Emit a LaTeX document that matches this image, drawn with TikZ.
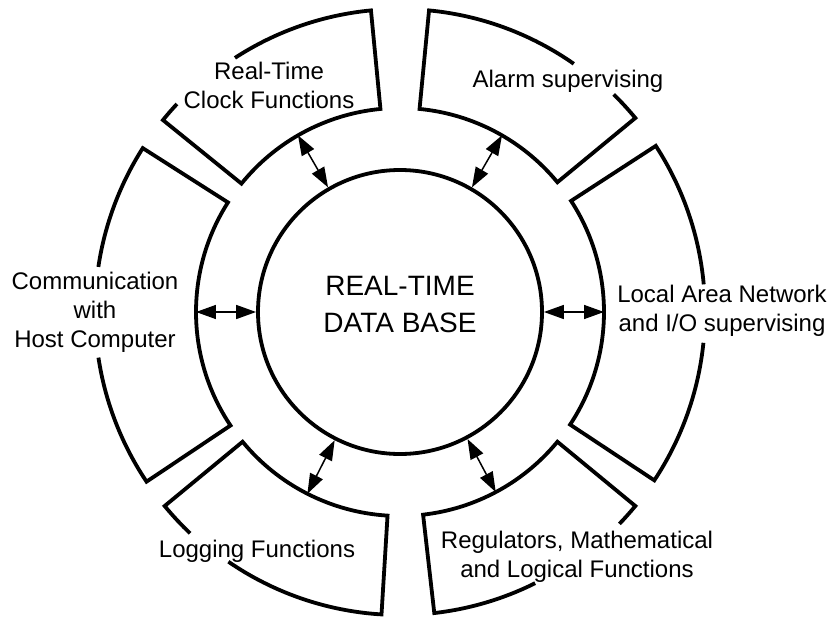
\documentclass[tikz,border=0pt]{standalone}
\usepackage{fontspec}
\setmainfont{Liberation Sans}
\usetikzlibrary{arrows.meta}
\tikzset{
    every node/.style={align=center,},
    block/.style={draw,line width=3.8pt,line join=miter,},
    blocktext/.style={font=\fontsize{24}{29}\selectfont,},
    base/.style={draw,circle,line width=3.8pt,minimum size=284pt,text depth=16pt,font=\fontsize{28}{37}\selectfont,},
    link/.style={line width=1.5pt,>={Triangle[length=20pt,width=14pt]},<->,},
}

\begin{document}
\begin{tikzpicture}[x=1pt,y=1pt]
    \useasboundingbox (-400,-307) rectangle (437,312);

    \node[base] (db) at (0,0) {REAL-TIME\\DATA BASE};

    % ring blocks, outer edge left open where the text sits
    \draw[block] (137:305) arc[start angle=137,end angle=141,radius=305pt] -- (141:204)
        arc[start angle=141,end angle=95.5,radius=204pt] -- (95.5:303) arc[start angle=95.5,end angle=123,radius=303pt];
    \draw[block] (55:303) arc[start angle=55,end angle=84.5,radius=303pt] -- (84.5:204)
        arc[start angle=84.5,end angle=39.5,radius=204pt] -- (39.5:305) arc[start angle=39.5,end angle=45.5,radius=305pt];
    \draw[block] (5.2:305) arc[start angle=5.2,end angle=33,radius=305pt] -- (33:204)
        arc[start angle=33,end angle=-33.5,radius=204pt] -- (-33.5:305) arc[start angle=-33.5,end angle=-5.8,radius=305pt];
    \draw[block] (-44:305) arc[start angle=-44,end angle=-39.5,radius=305pt] -- (-39.5:204)
        arc[start angle=-39.5,end angle=-83.5,radius=204pt] -- (-83.5:303) arc[start angle=-83.5,end angle=-63.5,radius=303pt];
    \draw[block] (226.5:305) arc[start angle=226.5,end angle=219.5,radius=305pt] -- (219.5:204)
        arc[start angle=219.5,end angle=266.5,radius=204pt] -- (266.5:303) arc[start angle=266.5,end angle=235.5,radius=303pt];
    \draw[block] (171.5:305) arc[start angle=171.5,end angle=147.5,radius=305pt] -- (147.5:204)
        arc[start angle=147.5,end angle=213.8,radius=204pt] -- (213.8:305) arc[start angle=213.8,end angle=188.6,radius=305pt];

    \node[blocktext] (clock) at (-131,227) {Real-Time\\Clock Functions};
    \node[blocktext] (alarm) at (168,231) {Alarm supervising};
    \node[blocktext] (lan) at (322,1) {Local Area Network\\and I/O supervising};
    \node[blocktext] (reg) at (177,-245) {Regulators, Mathematical\\and Logical Functions};
    \node[blocktext] (log) at (-143,-239) {Logging Functions};
    \node[blocktext] (host) at (-305,0) {Communication\\with\\Host Computer};

    \foreach \a/\n in {120/clock,60/alarm,0/lan,298/reg,243/log,180/host}{
        \coordinate (\n-in) at (\a:204);
        \draw[link] (db.\a) -- (\n-in);
    }
\end{tikzpicture}
\end{document}
